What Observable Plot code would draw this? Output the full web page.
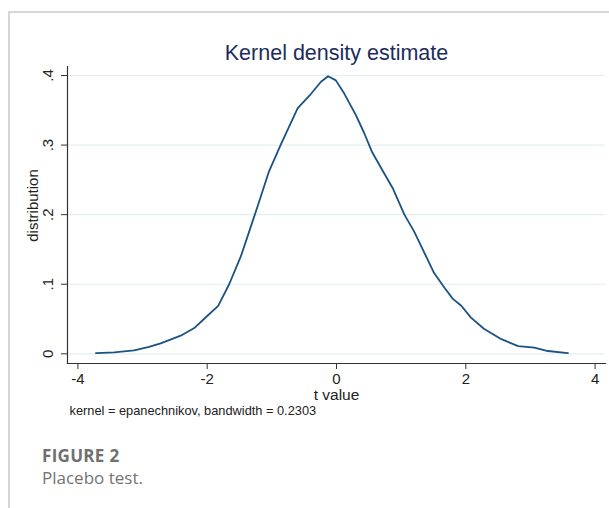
<!DOCTYPE html>
<html>
<head>
<meta charset="utf-8">
<script src="https://cdn.jsdelivr.net/npm/d3@7"></script>
<script src="https://cdn.jsdelivr.net/npm/@observablehq/plot@0.6"></script>
<style>
  html, body { margin: 0; padding: 0; background: #fff; }
  #page { position: relative; width: 609px; height: 508px; overflow: hidden; }
  #border { position: absolute; left: 8px; top: 11px; width: 620px; height: 520px;
            border-left: 2px solid #d6d6d6; border-top: 2px solid #d6d6d6; }
  #chart { position: absolute; left: 0; top: 0; }
  #cap1 { position: absolute; left: 42px; top: 444px; font-family: "Open Sans", sans-serif;
          font-weight: 700; font-size: 17px; color: #707070; letter-spacing: 0.3px; }
  #cap2 { position: absolute; left: 42px; top: 466px; font-family: "Open Sans", sans-serif;
          font-size: 17px; color: #737373; }
</style>
</head>
<body>
<div id="page">
  <div id="border"></div>
  <div id="chart"></div>
  <div id="cap1">FIGURE 2</div>
  <div id="cap2">Placebo test.</div>
</div>
<script>
const tValues = [-3.72, -3.44, -3.13, -2.90, -2.72, -2.41, -2.20, -2.05, -1.83, -1.66, -1.48, -1.40, -1.22, -1.045, -0.86, -0.60, -0.40, -0.24, -0.13, -0.01, 0.12, 0.30, 0.43, 0.55, 0.69, 0.87, 1.05, 1.20, 1.51, 1.67, 1.80, 1.93, 2.08, 2.28, 2.55, 2.81, 3.06, 3.27, 3.58];
const density = [0.001, 0.002, 0.005, 0.010, 0.015, 0.026, 0.037, 0.050, 0.069, 0.100, 0.140, 0.162, 0.212, 0.262, 0.301, 0.353, 0.373, 0.391, 0.399, 0.393, 0.374, 0.343, 0.317, 0.290, 0.267, 0.238, 0.200, 0.176, 0.116, 0.095, 0.079, 0.069, 0.052, 0.036, 0.021, 0.011, 0.009, 0.004, 0.001];
const xTicks = [-4, -2, 0, 2, 4];
const yTicks = [0, 0.1, 0.2, 0.3, 0.4];
const yTickLabels = ["0", ".1", ".2", ".3", ".4"];
const titleText = "Kernel density estimate";
const xLabel = "t value";
const yLabel = "distribution";
const noteText = "kernel = epanechnikov, bandwidth = 0.2303";

const data = tValues.map((t, i) => ({t, d: density[i]}));
const font = "'Liberation Sans', Arial, sans-serif";
const mid = {textAnchor: "middle", lineAnchor: "middle"};

const chart = Plot.plot({
  width: 609,
  height: 420,
  marginLeft: 67,
  marginRight: 4,
  marginTop: 66,
  marginBottom: 57,
  style: {fontFamily: font, background: "transparent", color: "#222"},
  x: {domain: [-4, 4], range: [77.4, 594.6]},
  y: {domain: [0, 0.4], range: [353.3, 75]},
  marks: [
    Plot.gridY(yTicks, {stroke: "#e4eef1", strokeOpacity: 1, strokeWidth: 1.2}),
    Plot.frame({anchor: "left", stroke: "#333", strokeWidth: 1.2}),
    Plot.frame({anchor: "bottom", stroke: "#333", strokeWidth: 1.2}),
    Plot.axisY({ticks: yTicks, tickSize: 6, tickFormat: () => "", label: null, stroke: "#333"}),
    Plot.text(yTicks, {y: d => d, text: (d, i) => yTickLabels[i], frameAnchor: "left", dx: -19, rotate: -90, fontSize: 15, fill: "#222", fontFamily: font, ...mid}),
    Plot.axisX({ticks: xTicks, tickSize: 6, tickPadding: 4, fontSize: 15, label: null, tickFormat: d => String(d), stroke: "#333", fill: "#222", fontFamily: font}),
    Plot.line(data, {x: "t", y: "d", stroke: "#1b5284", strokeWidth: 1.8}),
    Plot.text([titleText], {text: d => d, frameAnchor: "top", dy: -13, fontSize: 21.5, fill: "#1c2d5c", fontFamily: font, ...mid}),
    Plot.text([xLabel], {text: d => d, frameAnchor: "bottom", dy: 31.5, fontSize: 15.5, fill: "#222", fontFamily: font, ...mid}),
    Plot.text([yLabel], {text: d => d, frameAnchor: "left", dx: -34, dy: -9.5, rotate: -90, fontSize: 15, fill: "#222", fontFamily: font, ...mid}),
    Plot.text([noteText], {text: d => d, frameAnchor: "bottom-left", dx: 2, dy: 47, fontSize: 12.8, fill: "#222", fontFamily: font, textAnchor: "start", lineAnchor: "middle"})
  ]
});
document.getElementById("chart").appendChild(chart);
</script>
</body>
</html>
